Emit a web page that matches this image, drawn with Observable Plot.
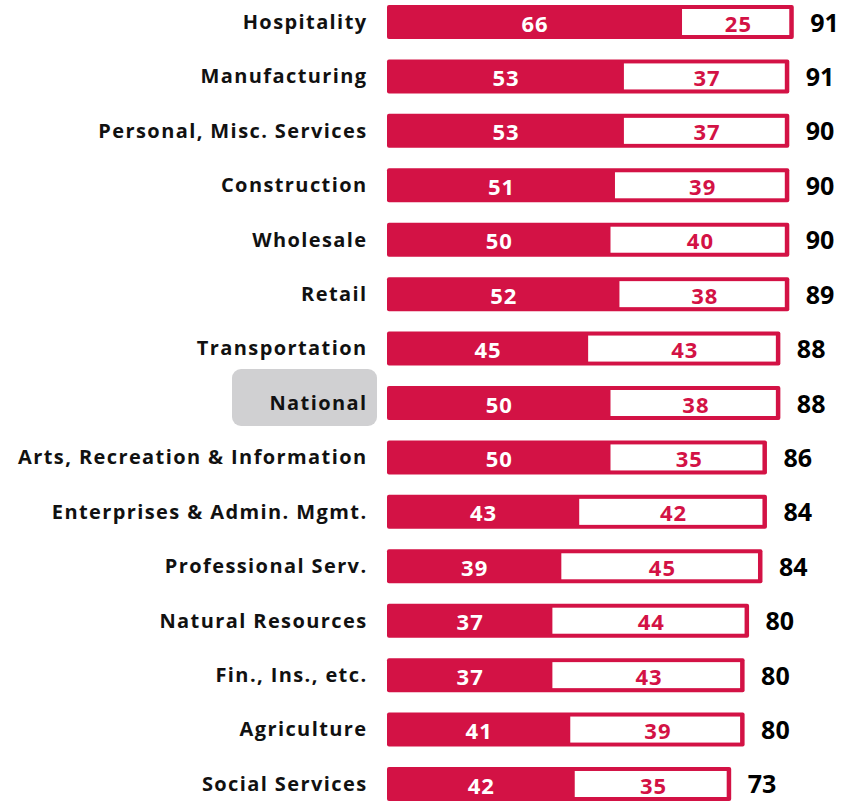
<!DOCTYPE html>
<html>
<head>
<meta charset="utf-8">
<script src="https://cdn.jsdelivr.net/npm/d3@7"></script>
<script src="https://cdn.jsdelivr.net/npm/@observablehq/plot@0.6"></script>
<style>
  html, body { margin: 0; padding: 0; background: #fff; }
  #chart svg { display: block; }
  #chart svg g[aria-label="y-axis tick label"] text { letter-spacing: 1.4px; }
  #chart svg g.inner text { letter-spacing: 1px; }
</style>
</head>
<body>
<div id="chart"></div>
<script>
const categories = ["Hospitality", "Manufacturing", "Personal, Misc. Services", "Construction", "Wholesale", "Retail", "Transportation", "National", "Arts, Recreation & Information", "Enterprises & Admin. Mgmt.", "Professional Serv.", "Natural Resources", "Fin., Ins., etc.", "Agriculture", "Social Services"];
const first = [66, 53, 53, 51, 50, 52, 45, 50, 50, 43, 39, 37, 37, 41, 42];
const second = [25, 37, 37, 39, 40, 38, 43, 38, 35, 42, 45, 44, 43, 39, 35];
const totals = [91, 91, 90, 90, 90, 89, 88, 88, 86, 84, 84, 80, 80, 80, 73];

const RED = "#D31245";
const rows = categories.map((c, i) => ({cat: c, a: first[i], b: second[i], end: first[i] + second[i], total: totals[i]}));
const FONT = "'Open Sans', sans-serif";

const plot = Plot.plot({
  width: 858,
  height: 801,
  marginLeft: 387,
  marginRight: 24,
  marginTop: 5,
  marginBottom: 0,
  style: {fontFamily: FONT, background: "#fff"},
  x: {domain: [0, 100], axis: null},
  y: {domain: categories, paddingInner: 0.375, paddingOuter: 0, align: 0, round: false, label: null},
  marks: [
    Plot.axisY({tickSize: 0, tickPadding: 20, fontSize: 20, fontWeight: "bold", fill: "#111", label: null}),
    Plot.barX(rows, {y: "cat", x1: 0, x2: "end", fill: RED, rx: 2}),
    Plot.barX(rows, {y: "cat", x1: "a", x2: "end", fill: "#fff", insetTop: 4, insetBottom: 4, insetRight: 4.5}),
    Plot.text(rows, {y: "cat", x: d => d.a / 2, text: d => String(d.a), fill: "#fff", fontSize: 22, fontWeight: "bold", dy: 2, className: "inner"}),
    Plot.text(rows, {y: "cat", x: d => d.a + d.b / 2, text: d => String(d.b), fill: RED, fontSize: 22, fontWeight: "bold", dy: 2, className: "inner"}),
    Plot.text(rows, {y: "cat", x: "end", text: d => String(d.total), fill: "#000", fontSize: 25, fontWeight: "bold", textAnchor: "start", dx: 16, dy: 1})
  ]
});

document.getElementById("chart").appendChild(plot);

// grey rounded highlight behind "National"
const y = plot.scale("y");
const bw = y.bandwidth;
const cy = y.apply("National") + bw / 2;
const svg = d3.select(plot);
svg.insert("rect", ":first-child")
  .attr("x", 232).attr("y", cy - 34).attr("width", 145).attr("height", 57)
  .attr("rx", 9).attr("fill", "#D0D0D2");
</script>
</body>
</html>
